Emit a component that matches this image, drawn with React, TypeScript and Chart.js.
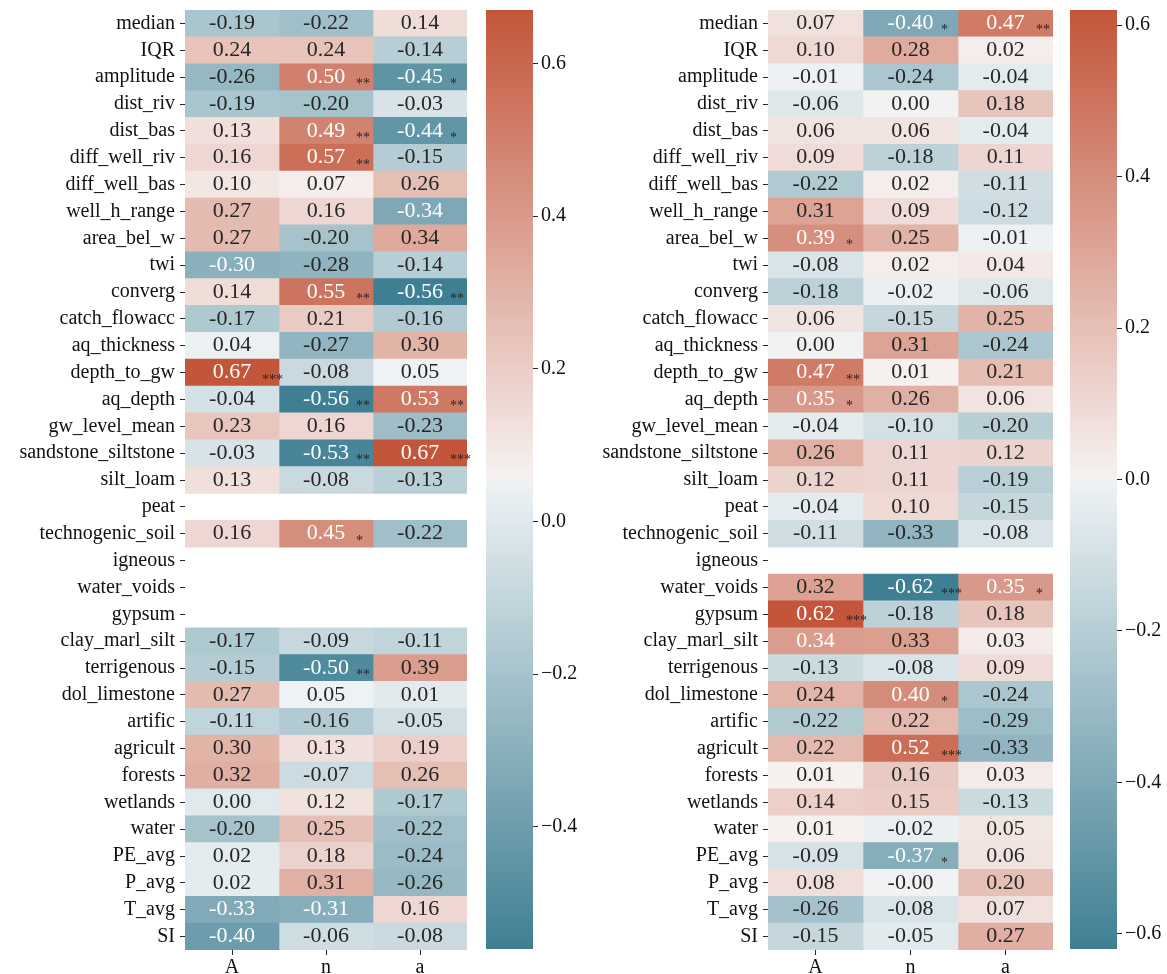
import React, { useEffect, useRef } from 'react';
import { Chart, registerables } from 'chart.js';

Chart.register(...registerables);

const rowLabels = [
  'median', 'IQR', 'amplitude', 'dist_riv', 'dist_bas', 'diff_well_riv', 'diff_well_bas',
  'well_h_range', 'area_bel_w', 'twi', 'converg', 'catch_flowacc', 'aq_thickness',
  'depth_to_gw', 'aq_depth', 'gw_level_mean', 'sandstone_siltstone', 'silt_loam', 'peat',
  'technogenic_soil', 'igneous', 'water_voids', 'gypsum', 'clay_marl_silt', 'terrigenous',
  'dol_limestone', 'artific', 'agricult', 'forests', 'wetlands', 'water', 'PE_avg', 'P_avg',
  'T_avg', 'SI',
];
const colLabels = ['A', 'n', 'a'];
const colTickValues = [0.5, 1.5, 2.5];

// Left panel values (columns A, n, a)
const leftA = [-0.19, 0.24, -0.26, -0.19, 0.13, 0.16, 0.10, 0.27, 0.27, -0.30, 0.14, -0.17, 0.04, 0.67, -0.04, 0.23, -0.03, 0.13, null, 0.16, null, null, null, -0.17, -0.15, 0.27, -0.11, 0.30, 0.32, 0.00, -0.20, 0.02, 0.02, -0.33, -0.40];
const leftN = [-0.22, 0.24, 0.50, -0.20, 0.49, 0.57, 0.07, 0.16, -0.20, -0.28, 0.55, 0.21, -0.27, -0.08, -0.56, 0.16, -0.53, -0.08, null, 0.45, null, null, null, -0.09, -0.50, 0.05, -0.16, 0.13, -0.07, 0.12, 0.25, 0.18, 0.31, -0.31, -0.06];
const leftLowA = [0.14, -0.14, -0.45, -0.03, -0.44, -0.15, 0.26, -0.34, 0.34, -0.14, -0.56, -0.16, 0.30, 0.05, 0.53, -0.23, 0.67, -0.13, null, -0.22, null, null, null, -0.11, 0.39, 0.01, -0.05, 0.19, 0.26, -0.17, -0.22, -0.24, -0.26, 0.16, -0.08];

// Right panel values (columns A, n, a)
const rightA = [0.07, 0.10, -0.01, -0.06, 0.06, 0.09, -0.22, 0.31, 0.39, -0.08, -0.18, 0.06, 0.00, 0.47, 0.35, -0.04, 0.26, 0.12, -0.04, -0.11, null, 0.32, 0.62, 0.34, -0.13, 0.24, -0.22, 0.22, 0.01, 0.14, 0.01, -0.09, 0.08, -0.26, -0.15];
const rightN = [-0.40, 0.28, -0.24, 0.00, 0.06, -0.18, 0.02, 0.09, 0.25, 0.02, -0.02, -0.15, 0.31, 0.01, 0.26, -0.10, 0.11, 0.11, 0.10, -0.33, null, -0.62, -0.18, 0.33, -0.08, 0.40, 0.22, 0.52, 0.16, 0.15, -0.02, -0.37, -0.003, -0.08, -0.05];
const rightLowA = [0.47, 0.02, -0.04, 0.18, -0.04, 0.11, -0.11, -0.12, -0.01, 0.04, -0.06, 0.25, -0.24, 0.21, 0.06, -0.20, 0.12, -0.19, -0.15, -0.08, null, 0.35, 0.18, 0.03, 0.09, -0.24, -0.29, -0.33, 0.03, -0.13, 0.05, 0.06, 0.20, 0.07, 0.27];

// Significance marks: [row, column, stars]
const leftSig: [string, string, string][] = [
  ['amplitude', 'n', '**'], ['amplitude', 'a', '*'], ['dist_bas', 'n', '**'], ['dist_bas', 'a', '*'],
  ['diff_well_riv', 'n', '**'], ['converg', 'n', '**'], ['converg', 'a', '**'],
  ['depth_to_gw', 'A', '***'], ['aq_depth', 'n', '**'], ['aq_depth', 'a', '**'],
  ['sandstone_siltstone', 'n', '**'], ['sandstone_siltstone', 'a', '***'],
  ['technogenic_soil', 'n', '*'], ['terrigenous', 'n', '**'],
];
const rightSig: [string, string, string][] = [
  ['median', 'n', '*'], ['median', 'a', '**'], ['area_bel_w', 'A', '*'], ['depth_to_gw', 'A', '**'],
  ['aq_depth', 'A', '*'], ['water_voids', 'n', '***'], ['water_voids', 'a', '*'],
  ['gypsum', 'A', '***'], ['dol_limestone', 'n', '*'], ['agricult', 'n', '***'], ['PE_avg', 'n', '*'],
];

const leftCbTicks = [-0.4, -0.2, 0.0, 0.2, 0.4, 0.6];
const rightCbTicks = [-0.6, -0.4, -0.2, 0.0, 0.2, 0.4, 0.6];

const FONT = "'Liberation Serif', 'Times New Roman', serif";
const DARK = '#262626';

// diverging palette (teal -> light -> red)
const cmapStops: [number, number[]][] = [
  [0, [63, 127, 147]],
  [0.496, [238, 242, 244]],
  [0.5, [242, 242, 242]],
  [0.504, [246, 241, 240]],
  [1, [195, 85, 58]],
];

function cmap(p: number): number[] {
  const t = Math.max(0, Math.min(1, p));
  for (let i = 0; i < cmapStops.length - 1; i++) {
    const [p0, c0] = cmapStops[i];
    const [p1, c1] = cmapStops[i + 1];
    if (t <= p1) {
      const f = (t - p0) / (p1 - p0);
      return c0.map((c, k) => Math.round(c + (c1[k] - c) * f));
    }
  }
  return cmapStops[cmapStops.length - 1][1];
}
const rgbStr = (c: number[]) => `rgb(${c[0]},${c[1]},${c[2]})`;
function luminance(c: number[]) {
  const lin = c.map((v) => {
    const s = v / 255;
    return s <= 0.03928 ? s / 12.92 : Math.pow((s + 0.055) / 1.055, 2.4);
  });
  return 0.2126 * lin[0] + 0.7152 * lin[1] + 0.0722 * lin[2];
}

function dataRange(cols: (number | null)[][]) {
  const all = cols.flat().filter((v) => v != null) as number[];
  return [Math.min(...all), Math.max(...all)];
}

function heatmapConfig(cols: (number | null)[][], sig: [string, string, string][], yAxisWidth: number, padRight: number): any {
  const [vmin, vmax] = dataRange(cols);
  const colorOf = (v: number) => cmap((v - vmin) / (vmax - vmin));
  const annotate = {
    id: 'annotate',
    afterDatasetsDraw(chart: any) {
      const ctx = chart.ctx;
      ctx.save();
      cols.forEach((vals, c) => {
        const meta = chart.getDatasetMeta(c);
        meta.data.forEach((el: any, i: number) => {
          const v = vals[i];
          if (v == null) return;
          const p = el.getProps(['x', 'y', 'base'], true);
          const left = Math.min(p.x, p.base);
          const right = Math.max(p.x, p.base);
          const cx = (left + right) / 2;
          const col = colorOf(v);
          ctx.fillStyle = luminance(col) > 0.408 ? DARK : '#ffffff';
          ctx.font = `22px ${FONT}`;
          ctx.textAlign = 'center';
          ctx.textBaseline = 'middle';
          ctx.fillText(v.toFixed(2), cx, p.y);
          const s = sig.find((e) => e[0] === rowLabels[i] && e[1] === colLabels[c]);
          if (s) {
            ctx.fillStyle = DARK;
            ctx.font = `14px ${FONT}`;
            ctx.textAlign = 'left';
            ctx.textBaseline = 'alphabetic';
            ctx.fillText(s[2], left + 0.82 * (right - left), p.y + 11);
          }
        });
      });
      ctx.restore();
    },
  };
  return {
    type: 'bar',
    data: {
      labels: rowLabels,
      datasets: cols.map((vals, c) => ({
        data: vals.map((v) => (v == null ? null : [c, c + 1])),
        backgroundColor: vals.map((v) => (v == null ? 'rgba(0,0,0,0)' : rgbStr(colorOf(v)))),
        borderWidth: 0,
        barPercentage: 1,
        categoryPercentage: 1,
        grouped: false,
      })),
    },
    options: {
      indexAxis: 'y',
      responsive: false,
      animation: false,
      events: [],
      layout: { padding: { top: 10, right: padRight, left: 0, bottom: 0 } },
      plugins: { legend: { display: false }, tooltip: { enabled: false } },
      scales: {
        y: {
          type: 'category',
          afterFit: (s: any) => { s.width = yAxisWidth; s.paddingTop = 0; s.paddingBottom = 0; },
          grid: { offset: false, drawOnChartArea: false, tickLength: 5, color: DARK, lineWidth: 1 },
          border: { display: false },
          ticks: { autoSkip: false, padding: 5, color: '#111', font: { family: FONT, size: 20 } },
        },
        x: {
          type: 'linear',
          min: 0,
          max: 3,
          afterFit: (s: any) => { s.height = 24; s.paddingLeft = 0; s.paddingRight = 0; },
          afterBuildTicks: (s: any) => { s.ticks = colTickValues.map((v) => ({ value: v })); },
          grid: { offset: false, drawOnChartArea: false, tickLength: 5, color: DARK, lineWidth: 1 },
          border: { display: false },
          ticks: {
            autoSkip: false,
            maxRotation: 0,
            padding: 1,
            color: '#111',
            font: { family: FONT, size: 20 },
            callback: (_v: any, i: number) => colLabels[i],
          },
        },
      },
    },
    plugins: [annotate],
  };
}

function colorbarConfig(cols: (number | null)[][], ticks: number[], padLeft: number, axisWidth: number): any {
  const [vmin, vmax] = dataRange(cols);
  return {
    type: 'bar',
    data: {
      labels: [''],
      datasets: [{
        data: [[vmin, vmax]],
        backgroundColor: (ctx: any) => {
          const a = ctx.chart.chartArea;
          if (!a) return '#f2f2f2';
          const g = ctx.chart.ctx.createLinearGradient(0, a.bottom, 0, a.top);
          cmapStops.forEach(([p, c]) => g.addColorStop(p, rgbStr(c)));
          return g;
        },
        borderWidth: 0,
        barPercentage: 1,
        categoryPercentage: 1,
      }],
    },
    options: {
      responsive: false,
      animation: false,
      events: [],
      layout: { padding: { top: 10, bottom: 25, left: padLeft, right: 0 } },
      plugins: { legend: { display: false }, tooltip: { enabled: false } },
      scales: {
        x: { display: false },
        y: {
          position: 'right',
          min: vmin,
          max: vmax,
          afterFit: (s: any) => { s.width = axisWidth; s.paddingTop = 0; s.paddingBottom = 0; },
          afterBuildTicks: (s: any) => { s.ticks = ticks.map((v) => ({ value: v })); },
          grid: { drawOnChartArea: false, tickLength: 5, color: DARK, lineWidth: 1 },
          border: { display: false },
          ticks: {
            autoSkip: false,
            padding: 3,
            color: '#111',
            font: { family: FONT, size: 20 },
            callback: (v: number) => (Math.abs(v) < 1e-9 ? '0.0' : v.toFixed(1).replace('-', '\u2212')),
          },
        },
      },
    },
  };
}

function ChartBox({ left, top, width, height, make }: { left: number; top: number; width: number; height: number; make: () => any }) {
  const ref = useRef<HTMLCanvasElement>(null);
  useEffect(() => {
    const chart = new Chart(ref.current as HTMLCanvasElement, make());
    return () => chart.destroy();
  }, []);
  return (
    <div style={{ position: 'absolute', left, top, width, height }}>
      <canvas ref={ref} width={width} height={height} style={{ width, height, display: 'block' }} />
    </div>
  );
}

const leftCols = [leftA, leftN, leftLowA];
const rightCols = [rightA, rightN, rightLowA];

export default function App() {
  return (
    <div style={{ position: 'absolute', left: 0, top: 0, width: 1167, height: 974, background: '#fff' }}>
      <ChartBox left={0} top={0} width={480} height={974} make={() => heatmapConfig(leftCols, leftSig, 185, 13)} />
      <ChartBox left={480} top={0} width={100} height={974} make={() => colorbarConfig(leftCols, leftCbTicks, 6, 47)} />
      <ChartBox left={580} top={0} width={480} height={974} make={() => heatmapConfig(rightCols, rightSig, 188, 7)} />
      <ChartBox left={1060} top={0} width={107} height={974} make={() => colorbarConfig(rightCols, rightCbTicks, 10, 50)} />
    </div>
  );
}
